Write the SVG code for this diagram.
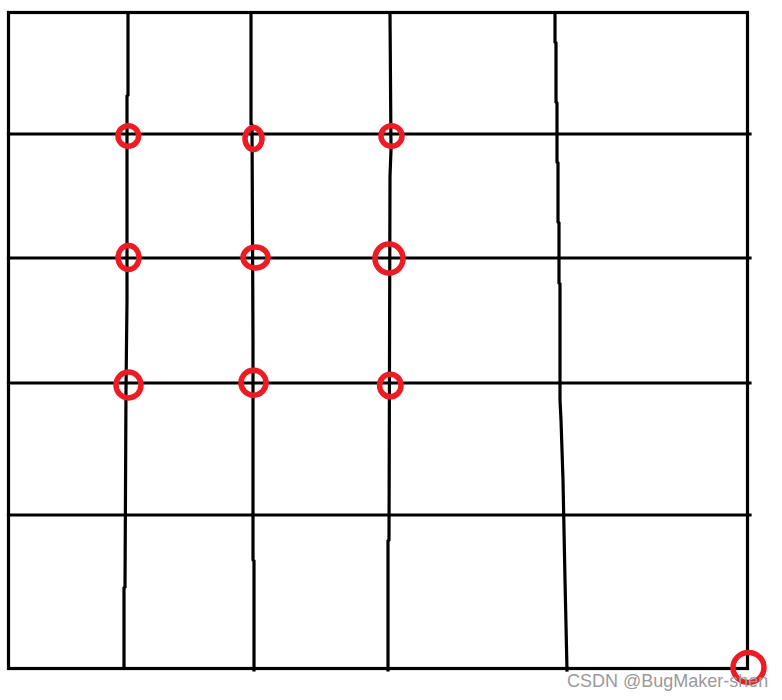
<svg xmlns="http://www.w3.org/2000/svg" width="782" height="700" viewBox="0 0 782 700">
<style>
.g{fill:none;stroke:#000;stroke-width:3.2;stroke-linecap:square}
.c{fill:none;stroke:#ed1c24;stroke-width:5.5}
.w{font-family:"Liberation Sans",Arial,sans-serif;font-size:18px;fill:#9a9a9a}
</style>
<rect width="782" height="700" fill="#fff"/>
<g id="grid">
<rect class="g" x="8.5" y="12.5" width="739" height="656"/>
<line class="g" x1="8.5" y1="134" x2="750" y2="134"/>
<line class="g" x1="8.5" y1="258" x2="750" y2="258"/>
<line class="g" x1="8.5" y1="383" x2="750" y2="383"/>
<line class="g" x1="8.5" y1="515" x2="750" y2="515"/>
<polyline class="g" points="128,13 128,95 127,96 127,300 126,390 125,587 124,588 124,668"/>
<polyline class="g" points="251,13 251,124 252,125 253,340 253,560 254,561 254,670"/>
<polyline class="g" points="390,13 391,150 390,176 389,540 388,541 388,670"/>
<polyline class="g" points="555,13 555,42 556,43 556,102 557,103 557,162 558,163 558,222 559,223 559,283 560,284 560,400 561,420 563,480 565,580 567,670"/>
</g>
<g id="circles">
<ellipse class="c" cx="128.3" cy="136" rx="10.3" ry="10.3"/>
<ellipse class="c" cx="253.5" cy="138.5" rx="8.5" ry="11"/>
<ellipse class="c" cx="391.5" cy="136" rx="10.5" ry="10.3"/>
<ellipse class="c" cx="128.5" cy="257.5" rx="10.5" ry="12"/>
<ellipse class="c" cx="255.5" cy="257.5" rx="12.5" ry="10.5"/>
<ellipse class="c" cx="389" cy="258.5" rx="14" ry="14.5"/>
<ellipse class="c" cx="128.5" cy="385" rx="12.5" ry="13"/>
<ellipse class="c" cx="253.5" cy="382.7" rx="12.5" ry="12.5"/>
<ellipse class="c" cx="390.3" cy="385.5" rx="10.7" ry="11.3"/>
<ellipse class="c" cx="748.5" cy="667.5" rx="15.5" ry="15"/>
</g>
<text class="w" x="567" y="686.5">CSDN @BugMaker-shen</text>
</svg>
